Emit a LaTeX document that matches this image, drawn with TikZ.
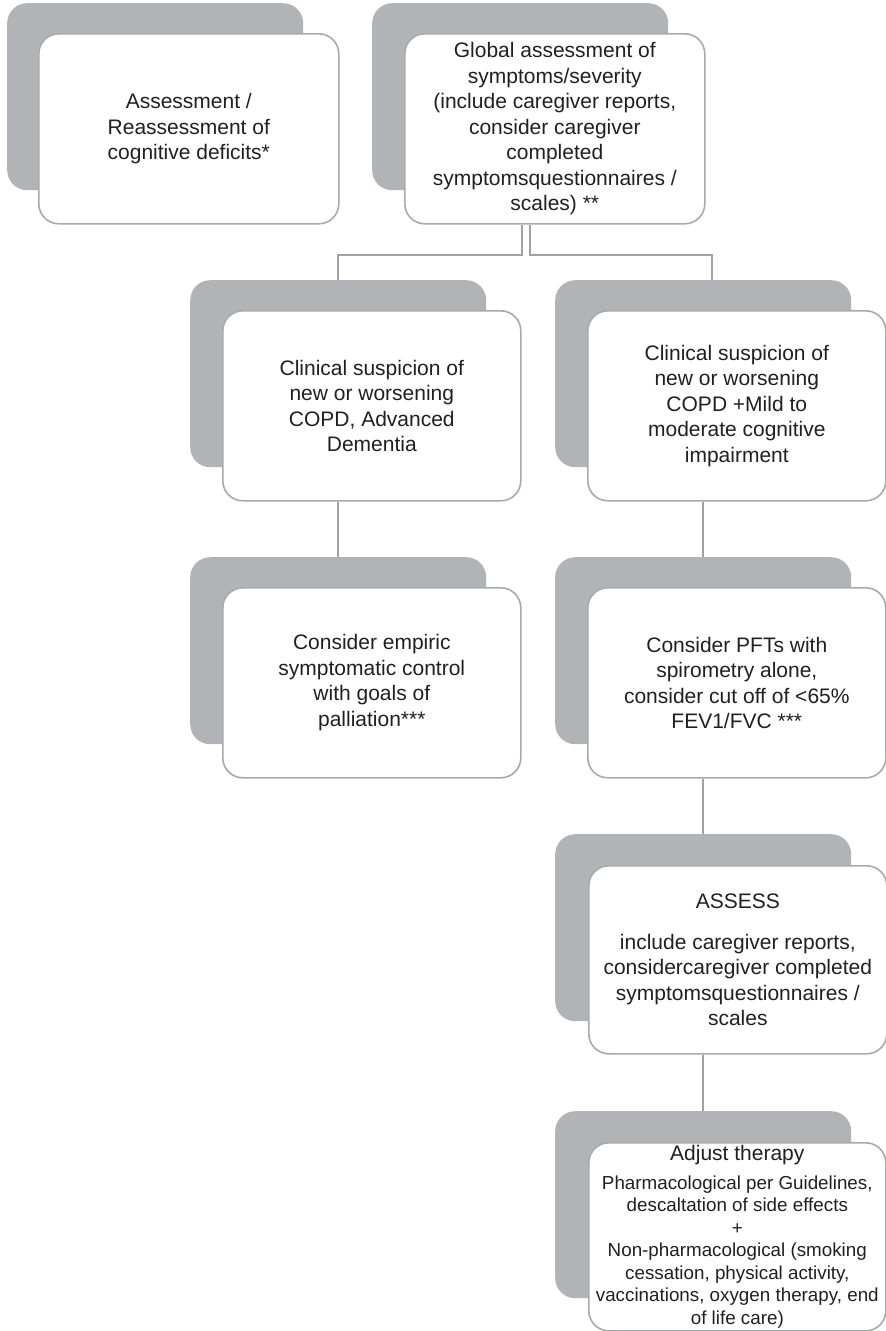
\documentclass[tikz,border=0pt]{standalone}
\usepackage{fontspec}
\setmainfont{Liberation Sans}
\definecolor{shade}{HTML}{B1B3B6}
\definecolor{rim}{HTML}{A7A9AC}
\definecolor{link}{HTML}{9FA1A4}
\definecolor{ink}{HTML}{231F20}
\tikzset{
  backcard/.style={rectangle, rounded corners=20pt, fill=shade, draw=none,
    minimum width=296pt, minimum height=187pt, inner sep=0pt, anchor=north west},
  frontcard/.style={rectangle, rounded corners=20pt, fill=white, draw=rim, line width=1.6pt,
    minimum width=298pt, minimum height=190pt, inner sep=0pt, anchor=north west,
    align=center, text=ink, font=\fontsize{21}{25.5}\selectfont},
  conn/.style={draw=link, line width=2pt},
}
\begin{document}
\begin{tikzpicture}[x=1pt,y=-1pt]
\useasboundingbox (0,0) rectangle (886,1331);

% back cards
\node[backcard] (b1s) at (7,3) {};
\node[backcard] (b2s) at (372,3) {};
\node[backcard] (b3s) at (190,280) {};
\node[backcard] (b4s) at (555,280) {};
\node[backcard] (b5s) at (190,557) {};
\node[backcard] (b6s) at (555,557) {};
\node[backcard] (b7s) at (555,834) {};
\node[backcard] (b8s) at (555,1111) {};

% front cards
\node[frontcard, minimum width=300pt] (b1) at (38,33)
  {Assessment /\\Reassessment of\\cognitive deficits*};
\node[frontcard, minimum width=300pt] (b2) at (404,33)
  {Global assessment of\\symptoms/severity\\(include caregiver reports,\\consider caregiver\\completed\\symptomsquestionnaires /\\scales) **};
\node[frontcard] (b3) at (222,310)
  {Clinical suspicion of\\new or worsening\\COPD, Advanced\\Dementia};
\node[frontcard] (b4) at (587,310)
  {Clinical suspicion of\\new or worsening\\COPD +Mild to\\moderate cognitive\\impairment};
\node[frontcard] (b5) at (222,587)
  {Consider empiric\\symptomatic control\\with goals of\\palliation***};
\node[frontcard] (b6) at (587,587)
  {Consider PFTs with\\spirometry alone,\\consider cut off of <65\%\\FEV1/FVC ***};
\node[frontcard, minimum height=188pt] (b7) at (588,865)
  {ASSESS\\[15pt]include caregiver reports,\\considercaregiver completed\\symptomsquestionnaires /\\scales};
\node[frontcard, minimum width=297pt, minimum height=188pt,
      font=\fontsize{18.8}{22.5}\selectfont] (b8) at (588,1142)
  {{\fontsize{21}{25}\selectfont Adjust therapy}\\[6pt]Pharmacological per Guidelines,\\descaltation of side effects\\+\\Non-pharmacological (smoking\\cessation, physical activity,\\vaccinations, oxygen therapy, end\\of life care)};

% connectors
\draw[conn] ([xshift=-33pt]b2.south) -- ++(0,30) -| (b3s.north);
\draw[conn] ([xshift=-25pt]b2.south) -- ++(0,30) -| ([xshift=8.5pt]b4s.north);
\draw[conn] (b3s.north |- b3.south) -- (b5s.north);
\draw[conn] (b4s.north |- b4.south) -- (b6s.north);
\draw[conn] (b6s.north |- b6.south) -- (b7s.north);
\draw[conn] (b7s.north |- b7.south) -- (b8s.north);
\end{tikzpicture}
\end{document}
